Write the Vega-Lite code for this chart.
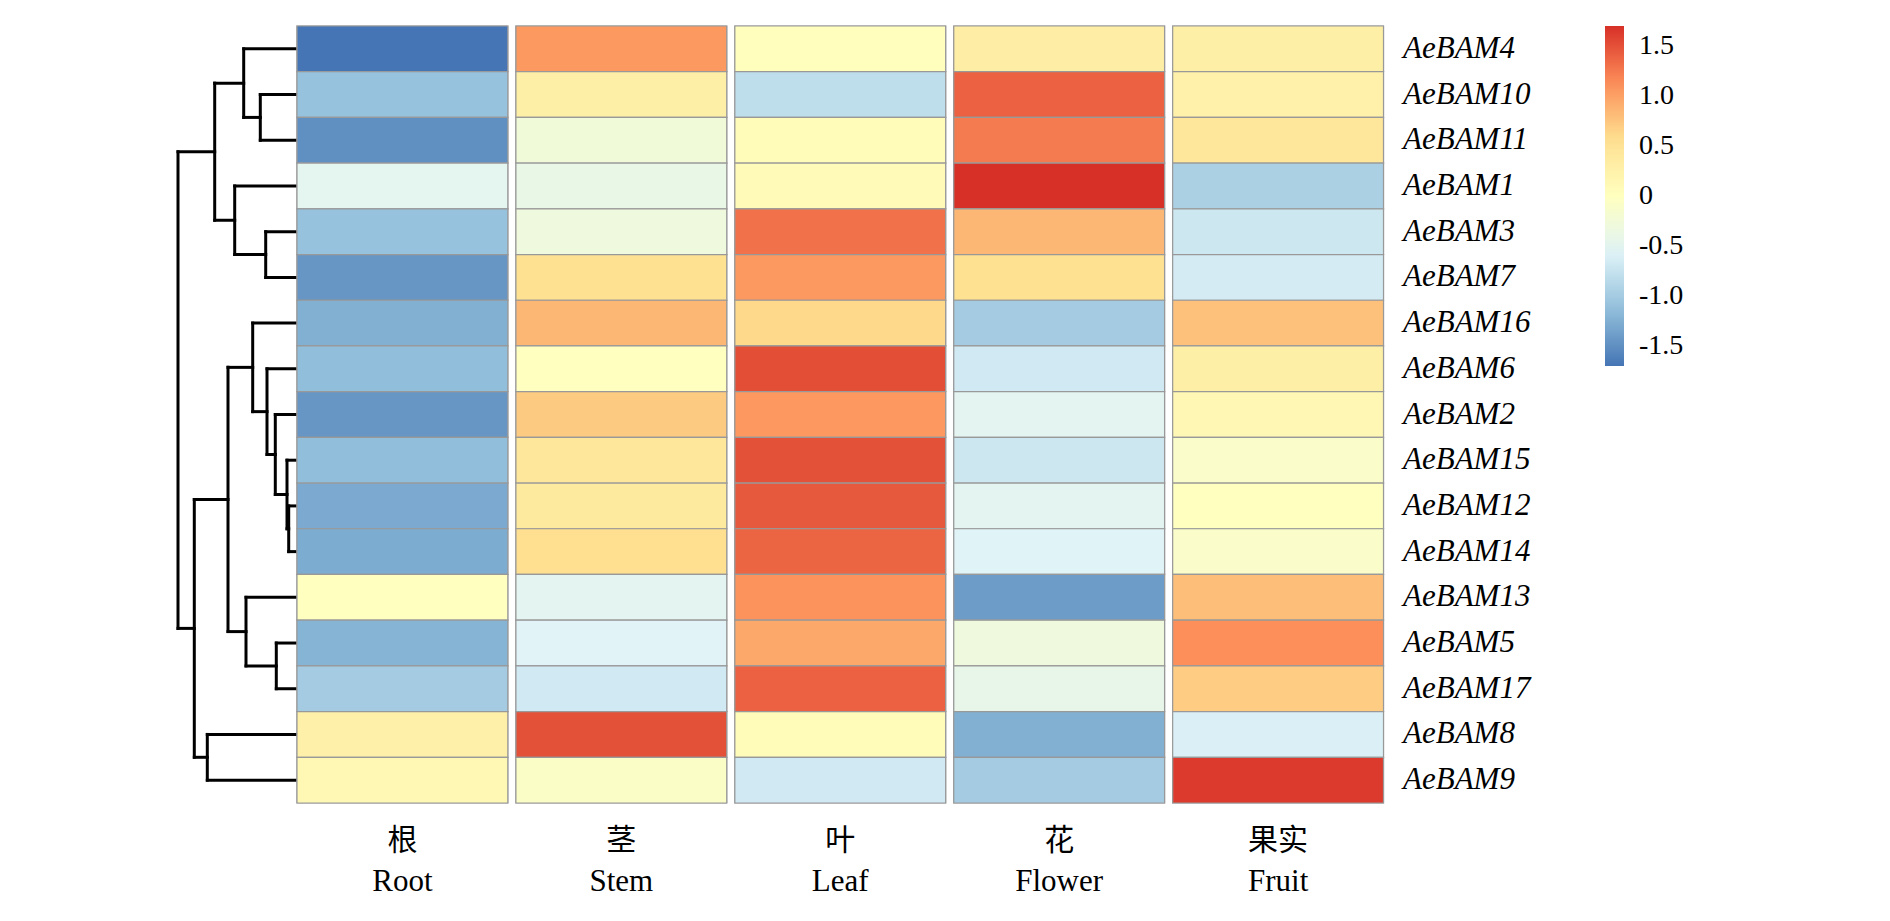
{
  "$schema": "https://vega.github.io/schema/vega-lite/v6.json",
  "padding": {"left": 175, "top": 25, "right": 5, "bottom": 5},
  "bounds": "flush",
  "spacing": 0,
  "config": {"view": {"stroke": null}, "font": "Liberation Serif"},
  "datasets": {
    "merges": [
      {"node": "K", "h": 3.6, "ya": 2, "yb": 3, "ha": 0, "hb": 0},
      {"node": "L", "h": 5.26, "ya": 1, "yb": 2.5, "ha": 0, "hb": 3.6},
      {"node": "M", "h": 3.06, "ya": 5, "yb": 6, "ha": 0, "hb": 0},
      {"node": "N", "h": 6.16, "ya": 4, "yb": 5.5, "ha": 0, "hb": 3.06},
      {"node": "O", "h": 8.16, "ya": 1.75, "yb": 4.75, "ha": 5.26, "hb": 6.16},
      {"node": "A", "h": 0.76, "ya": 11, "yb": 12, "ha": 0, "hb": 0},
      {"node": "B", "h": 0.93, "ya": 10, "yb": 11.5, "ha": 0, "hb": 0.76},
      {"node": "C", "h": 2.1, "ya": 9, "yb": 10.75, "ha": 0, "hb": 0.93},
      {"node": "D", "h": 2.93, "ya": 8, "yb": 9.875, "ha": 0, "hb": 2.1},
      {"node": "E", "h": 4.36, "ya": 7, "yb": 8.9375, "ha": 0, "hb": 2.93},
      {"node": "F", "h": 2.0, "ya": 14, "yb": 15, "ha": 0, "hb": 0},
      {"node": "G", "h": 5.03, "ya": 13, "yb": 14.5, "ha": 0, "hb": 2.0},
      {"node": "H", "h": 6.83, "ya": 7.96875, "yb": 13.75, "ha": 4.36, "hb": 5.03},
      {"node": "I", "h": 8.9, "ya": 16, "yb": 17, "ha": 0, "hb": 0},
      {"node": "J", "h": 10.2, "ya": 10.859375, "yb": 16.5, "ha": 6.83, "hb": 8.9},
      {"node": "P", "h": 11.83, "ya": 3.25, "yb": 13.6796875, "ha": 8.16, "hb": 10.2}
    ],
    "expr": [
      {"gene": "AeBAM4", "tissue": "根|Root", "z": -1.7},
      {"gene": "AeBAM4", "tissue": "茎|Stem", "z": 1.05},
      {"gene": "AeBAM4", "tissue": "叶|Leaf", "z": 0.02},
      {"gene": "AeBAM4", "tissue": "花|Flower", "z": 0.33},
      {"gene": "AeBAM4", "tissue": "果实|Fruit", "z": 0.3},
      {"gene": "AeBAM10", "tissue": "根|Root", "z": -1.1},
      {"gene": "AeBAM10", "tissue": "茎|Stem", "z": 0.3},
      {"gene": "AeBAM10", "tissue": "叶|Leaf", "z": -0.8},
      {"gene": "AeBAM10", "tissue": "花|Flower", "z": 1.4},
      {"gene": "AeBAM10", "tissue": "果实|Fruit", "z": 0.25},
      {"gene": "AeBAM11", "tissue": "根|Root", "z": -1.5},
      {"gene": "AeBAM11", "tissue": "茎|Stem", "z": -0.25},
      {"gene": "AeBAM11", "tissue": "叶|Leaf", "z": 0.08},
      {"gene": "AeBAM11", "tissue": "花|Flower", "z": 1.25},
      {"gene": "AeBAM11", "tissue": "果实|Fruit", "z": 0.45},
      {"gene": "AeBAM1", "tissue": "根|Root", "z": -0.48},
      {"gene": "AeBAM1", "tissue": "茎|Stem", "z": -0.4},
      {"gene": "AeBAM1", "tissue": "叶|Leaf", "z": 0.1},
      {"gene": "AeBAM1", "tissue": "花|Flower", "z": 1.7},
      {"gene": "AeBAM1", "tissue": "果实|Fruit", "z": -0.95},
      {"gene": "AeBAM3", "tissue": "根|Root", "z": -1.1},
      {"gene": "AeBAM3", "tissue": "茎|Stem", "z": -0.3},
      {"gene": "AeBAM3", "tissue": "叶|Leaf", "z": 1.3},
      {"gene": "AeBAM3", "tissue": "花|Flower", "z": 0.85},
      {"gene": "AeBAM3", "tissue": "果实|Fruit", "z": -0.7},
      {"gene": "AeBAM7", "tissue": "根|Root", "z": -1.45},
      {"gene": "AeBAM7", "tissue": "茎|Stem", "z": 0.55},
      {"gene": "AeBAM7", "tissue": "叶|Leaf", "z": 1.05},
      {"gene": "AeBAM7", "tissue": "花|Flower", "z": 0.55},
      {"gene": "AeBAM7", "tissue": "果实|Fruit", "z": -0.65},
      {"gene": "AeBAM16", "tissue": "根|Root", "z": -1.25},
      {"gene": "AeBAM16", "tissue": "茎|Stem", "z": 0.85},
      {"gene": "AeBAM16", "tissue": "叶|Leaf", "z": 0.62},
      {"gene": "AeBAM16", "tissue": "花|Flower", "z": -1.0},
      {"gene": "AeBAM16", "tissue": "果实|Fruit", "z": 0.78},
      {"gene": "AeBAM6", "tissue": "根|Root", "z": -1.13},
      {"gene": "AeBAM6", "tissue": "茎|Stem", "z": 0.0},
      {"gene": "AeBAM6", "tissue": "叶|Leaf", "z": 1.52},
      {"gene": "AeBAM6", "tissue": "花|Flower", "z": -0.68},
      {"gene": "AeBAM6", "tissue": "果实|Fruit", "z": 0.3},
      {"gene": "AeBAM2", "tissue": "根|Root", "z": -1.45},
      {"gene": "AeBAM2", "tissue": "茎|Stem", "z": 0.72},
      {"gene": "AeBAM2", "tissue": "叶|Leaf", "z": 1.06},
      {"gene": "AeBAM2", "tissue": "花|Flower", "z": -0.5},
      {"gene": "AeBAM2", "tissue": "果实|Fruit", "z": 0.15},
      {"gene": "AeBAM15", "tissue": "根|Root", "z": -1.13},
      {"gene": "AeBAM15", "tissue": "茎|Stem", "z": 0.45},
      {"gene": "AeBAM15", "tissue": "叶|Leaf", "z": 1.5},
      {"gene": "AeBAM15", "tissue": "花|Flower", "z": -0.7},
      {"gene": "AeBAM15", "tissue": "果实|Fruit", "z": -0.1},
      {"gene": "AeBAM12", "tissue": "根|Root", "z": -1.3},
      {"gene": "AeBAM12", "tissue": "茎|Stem", "z": 0.38},
      {"gene": "AeBAM12", "tissue": "叶|Leaf", "z": 1.45},
      {"gene": "AeBAM12", "tissue": "花|Flower", "z": -0.5},
      {"gene": "AeBAM12", "tissue": "果实|Fruit", "z": 0.0},
      {"gene": "AeBAM14", "tissue": "根|Root", "z": -1.28},
      {"gene": "AeBAM14", "tissue": "茎|Stem", "z": 0.57},
      {"gene": "AeBAM14", "tissue": "叶|Leaf", "z": 1.38},
      {"gene": "AeBAM14", "tissue": "花|Flower", "z": -0.56},
      {"gene": "AeBAM14", "tissue": "果实|Fruit", "z": -0.1},
      {"gene": "AeBAM13", "tissue": "根|Root", "z": 0.0},
      {"gene": "AeBAM13", "tissue": "茎|Stem", "z": -0.5},
      {"gene": "AeBAM13", "tissue": "叶|Leaf", "z": 1.1},
      {"gene": "AeBAM13", "tissue": "花|Flower", "z": -1.4},
      {"gene": "AeBAM13", "tissue": "果实|Fruit", "z": 0.8},
      {"gene": "AeBAM5", "tissue": "根|Root", "z": -1.22},
      {"gene": "AeBAM5", "tissue": "茎|Stem", "z": -0.55},
      {"gene": "AeBAM5", "tissue": "叶|Leaf", "z": 0.95},
      {"gene": "AeBAM5", "tissue": "花|Flower", "z": -0.3},
      {"gene": "AeBAM5", "tissue": "果实|Fruit", "z": 1.12},
      {"gene": "AeBAM17", "tissue": "根|Root", "z": -1.0},
      {"gene": "AeBAM17", "tissue": "茎|Stem", "z": -0.68},
      {"gene": "AeBAM17", "tissue": "叶|Leaf", "z": 1.4},
      {"gene": "AeBAM17", "tissue": "花|Flower", "z": -0.42},
      {"gene": "AeBAM17", "tissue": "果实|Fruit", "z": 0.7},
      {"gene": "AeBAM8", "tissue": "根|Root", "z": 0.27},
      {"gene": "AeBAM8", "tissue": "茎|Stem", "z": 1.5},
      {"gene": "AeBAM8", "tissue": "叶|Leaf", "z": 0.08},
      {"gene": "AeBAM8", "tissue": "花|Flower", "z": -1.25},
      {"gene": "AeBAM8", "tissue": "果实|Fruit", "z": -0.6},
      {"gene": "AeBAM9", "tissue": "根|Root", "z": 0.12},
      {"gene": "AeBAM9", "tissue": "茎|Stem", "z": -0.08},
      {"gene": "AeBAM9", "tissue": "叶|Leaf", "z": -0.68},
      {"gene": "AeBAM9", "tissue": "花|Flower", "z": -1.0},
      {"gene": "AeBAM9", "tissue": "果实|Fruit", "z": 1.64}
    ]
  },
  "hconcat": [
    {
      "width": 118.3,
      "height": 777,
      "data": {"name": "merges"},
      "layer": [
        {
          "mark": {"type": "rule", "color": "#000000", "strokeWidth": 3, "strokeCap": "square"},
          "encoding": {
            "x": {"field": "h", "type": "quantitative", "scale": {"domain": [0, 11.83], "reverse": true, "nice": false, "zero": false}, "axis": null},
            "y": {"field": "ya", "type": "quantitative", "scale": {"domain": [0.5, 17.5], "reverse": true, "nice": false, "zero": false}, "axis": null},
            "y2": {"field": "yb"}
          }
        },
        {
          "mark": {"type": "rule", "color": "#000000", "strokeWidth": 3, "strokeCap": "square"},
          "encoding": {
            "x": {"field": "h", "type": "quantitative"},
            "x2": {"field": "ha"},
            "y": {"field": "ya", "type": "quantitative"}
          }
        },
        {
          "mark": {"type": "rule", "color": "#000000", "strokeWidth": 3, "strokeCap": "square"},
          "encoding": {
            "x": {"field": "h", "type": "quantitative"},
            "x2": {"field": "hb"},
            "y": {"field": "yb", "type": "quantitative"}
          }
        }
      ]
    },
    {
      "width": 1086.5,
      "height": 777,
      "data": {"name": "expr"},
      "encoding": {
        "y": {
          "field": "gene", "type": "nominal",
          "sort": ["AeBAM4", "AeBAM10", "AeBAM11", "AeBAM1", "AeBAM3", "AeBAM7", "AeBAM16", "AeBAM6", "AeBAM2", "AeBAM15", "AeBAM12", "AeBAM14", "AeBAM13", "AeBAM5", "AeBAM17", "AeBAM8", "AeBAM9"],
          "scale": {"padding": 0},
          "axis": {"orient": "right", "title": null, "domain": false, "ticks": false,
                   "labelFontSize": 31, "labelFont": "Liberation Serif", "labelFontStyle": "italic", "labelColor": "#000000", "labelPadding": 19}
        },
        "color": {
          "field": "z", "type": "quantitative",
          "scale": {
            "domain": [-1.7, -1.1333, -0.5667, 0, 0.5667, 1.1333, 1.7],
            "range": ["#4575B4", "#91BFDB", "#E0F3F8", "#FFFFBF", "#FEE090", "#FC8D59", "#D73027"],
            "interpolate": "rgb"
          },
          "legend": {
            "title": null, "orient": "none", "legendX": 1427, "legendY": 0, "direction": "vertical",
            "gradientLength": 340, "gradientThickness": 19, "gradientStrokeWidth": 0,
            "values": [-1.5, -1, -0.5, 0, 0.5, 1, 1.5],
            "labelFontSize": 28, "labelFont": "Liberation Serif", "labelColor": "#000000", "labelOffset": 15,
            "labelExpr": "datum.value == 0 ? '0' : (datum.value % 1 == 0 ? datum.value + '.0' : datum.value + '')"
          }
        }
      },
      "layer": [
        {
          "mark": {"type": "rect", "stroke": "#999999", "strokeWidth": 1.2},
          "encoding": {
            "x": {
              "field": "tissue", "type": "nominal",
              "sort": ["根|Root", "茎|Stem", "叶|Leaf", "花|Flower", "果实|Fruit"],
              "scale": {"paddingInner": 0.037, "paddingOuter": 0},
              "axis": {"orient": "bottom", "title": null, "domain": false, "ticks": false, "labelAngle": 0,
                       "labelFontSize": 30, "labelFont": "Noto Sans CJK SC", "labelColor": "#000000",
                       "labelPadding": 22, "labelExpr": "split(datum.label, '|')[0]"}
            }
          }
        },
        {
          "mark": {"type": "rect", "stroke": "#999999", "strokeWidth": 1.2},
          "encoding": {
            "x": {
              "field": "tissue", "type": "nominal",
              "sort": ["根|Root", "茎|Stem", "叶|Leaf", "花|Flower", "果实|Fruit"],
              "axis": {"orient": "bottom", "title": null, "domain": false, "ticks": false, "labelAngle": 0,
                       "labelFontSize": 31, "labelFont": "Liberation Serif", "labelColor": "#000000",
                       "labelPadding": 63, "labelExpr": "split(datum.label, '|')[1]"}
            }
          }
        }
      ],
      "resolve": {"axis": {"x": "independent"}}
    }
  ]
}
